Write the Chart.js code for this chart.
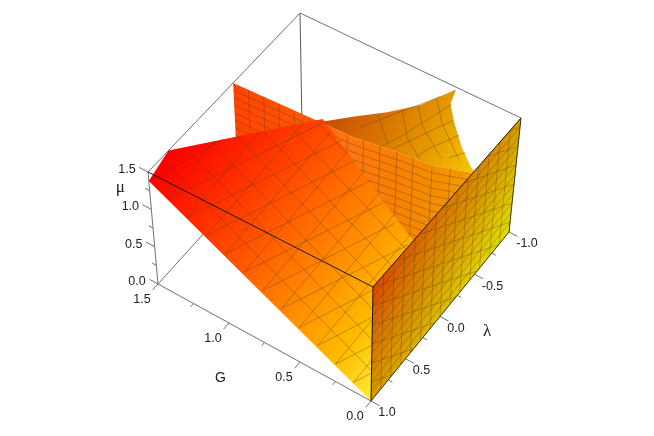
<!DOCTYPE html>
<html><head><meta charset="utf-8">
<style>html,body{margin:0;padding:0;background:#fff}#w{width:654px;height:436px;position:relative}canvas{filter:blur(0.5px)}</style>
<script src="https://cdn.jsdelivr.net/npm/chart.js@4"></script>
</head><body><div id="w"><canvas id="c" width="654" height="436"></canvas></div>
<script>
// ---- axes ----
const gTicks=[0,0.5,1,1.5], lambdaTicks=[1,0.5,0,-0.5,-1], muTicks=[0,0.5,1,1.5];
const gMinor=[0.25,0.75,1.25], lambdaMinor=[0.75,0.25,-0.25,-0.75], muMinor=[0.25,0.75,1.25];
const tickLabels=v=>v.toFixed(1);
// ---- surface sheets: vertices as [G, lambda, mu] ----
const backLobe=[[0.93,-0.15,1.5],[0.80,-0.33,1.5],[0.66,-0.51,1.5],[0.535,-0.70,1.5],[0.44,-1,1.47],[0.47,-1,1.25],[0.435,-1,1.03],[0.375,-1,0.77],[0.3,-1,0.57],[0.15,-1,0.4],[0,-0.35,1.5],[0.22,-0.25,1.5],[0.445,-0.216,1.5],[0.714,-0.16,1.5]];
const curtainG=[1.5,0.93,0.714,0.445,0.22,0];
const curtainL=[-0.12,-0.15,-0.16,-0.216,-0.25,-0.35];
const curtainBase=0.4, curtainTop=1.5;
const mainSheet=[[0,1,0],[1.5,1,1.38],[1.5,0.73,1.5],[1.07,-0.46,1.07],[0.62,-0.34,0.62],[0.34,-0.29,0.34],[0,-0.3,0]];
const wallSheet=[[0,1,1.5],[0,-1,1.5],[0,-1,0],[0,1,0]];
// ---- mesh lines ----
const curtainColG=[1.4,1.3,1.2,1.1,1.0,0.75,0.65,0.55,0.445,0.345,0.225,0.125];
const curtainColL=[-0.125,-0.13,-0.135,-0.14,-0.145,-0.155,-0.175,-0.195,-0.216,-0.235,-0.25,-0.295];
const curtainRows=[1.4,1.3,1.2,1.1,1.0,0.9,0.8,0.7,0.6,0.5];
const mainGVals=[1.375,1.25,1.125,1,0.875,0.75,0.625,0.5,0.375,0.25,0.125];
const mainGStartMu=[1.265,1.15,1.035,0.92,0.805,0.69,0.575,0.46,0.345,0.23,0.115];
const mainGEndL=[0.38,0.03,-0.31,-0.44,-0.41,-0.375,-0.34,-0.32,-0.30,-0.3,-0.3];
const mainLVals=[0.8,0.6,0.4,0.2,0,-0.2,-0.4];
const mainLStartG=[0,0,0,0,0,0,0.85];
const mainLEndG=[1.5,1.45,1.38,1.31,1.24,1.16,1.09];
const mainDiagStartG=[1.5,1.375,1.25,1.125,1,0.875,0.75,0.625,0.5,0.375,0.25,0.125];
const mainDiagEndG=[1.35,1.053,0.93,0.82,0.70,0.58,0.47,0.35,0.21,0.09,0,0];
const mainDiagEndL=[0.3,-0.46,-0.46,-0.4,-0.37,-0.32,-0.27,-0.23,-0.3,-0.3,-0.136,0.43];
const wallLVals=[0.857,0.714,0.571,0.429,0.286,0.143,0,-0.143,-0.286,-0.429,-0.571,-0.714,-0.857];
const wallMuVals=[0.125,0.25,0.375,0.5,0.625,0.75,0.875,1,1.125,1.25,1.375];
const wallDiagA=[[1,0.25],[1,0.5],[1,0.75],[1,1],[1,1.25],[1,1.5],[0.69,1.5],[0.38,1.5],[0.07,1.5],[-0.23,1.5],[-0.54,1.5],[-0.85,1.5]];
const wallDiagB=[[0.69,0],[0.38,0],[0.07,0],[-0.23,0],[-0.54,0],[-0.85,0],[-1,0.13],[-1,0.38],[-1,0.63],[-1,0.88],[-1,1.13],[-1,1.38]];
const backLines=[
 [[0.69,-0.447],[0.576,-0.312],[0.522,-0.244]],
 [[0.598,-0.588],[0.45,-0.368],[0.314,-0.254]],
 [[0.545,-0.696],[0.434,-0.536],[0.213,-0.346]],
 [[0.477,-0.816],[0.362,-0.649],[0.117,-0.398]],
 [[0.388,-0.838],[0.495,-0.35],[0.546,-0.186]],
 [[0.315,-0.704],[0.432,-0.36],[0.478,-0.224]],
 [[0.222,-0.61],[0.308,-0.378],[0.336,-0.258]],
 [[0.117,-0.492],[0.176,-0.38]],
 [[0.476,-0.854],[0.723,-0.274]]
];
// ---- view: pixel position of the eight box corners ----
const corner={A:[371,401],B:[158,284],C:[509,232],D:[302,125],At:[373,287],Bt:[148,172],Ct:[521,118],Dt:[300,13]};
function proj(g,l,m){
 const u=g/1.5,v=(1-l)/2,w=m/1.5,f=i=>(1-w)*((1-u)*(1-v)*corner.A[i]+u*(1-v)*corner.B[i]+(1-u)*v*corner.C[i]+u*v*corner.D[i])+w*((1-u)*(1-v)*corner.At[i]+u*(1-v)*corner.Bt[i]+(1-u)*v*corner.Ct[i]+u*v*corner.Dt[i]);
 return {x:f(0),y:f(1)};
}
const canvas=document.getElementById('c');
const ctx=canvas.getContext('2d');
function grad(x0,y0,x1,y1,stops){const g=ctx.createLinearGradient(x0,y0,x1,y1);stops.forEach(s=>g.addColorStop(s[0],s[1]));return g;}
const datasets=[];
function add(pts,o){datasets.push(Object.assign({data:pts.map(p=>proj(p[0],p[1],p[2])),showLine:true,pointRadius:0,borderWidth:1,fill:false,tension:0,order:100000-datasets.length},o));}
const poly=(pts,c)=>add(pts,{backgroundColor:c,borderWidth:0,borderColor:'rgba(0,0,0,0)',fill:'shape'});
const line=(pts,c,w)=>add(pts,{borderColor:c,borderWidth:w||1});
const AX='#707070',DK='#1c1400',MESH='rgba(96,52,0,0.36)',MESHW='rgba(70,50,0,0.3)';
// back of box
line([[1.5,1,0],[1.5,-1,0]],AX);
line([[1.5,-1,0],[1.5,-1,1.5]],'#5a5a5a');
line([[1.5,1,1.5],[1.5,-1,1.5]],AX);
line([[1.5,-1,1.5],[0,-1,1.5]],AX);
line([[1.5,1,0],[1.5,1,1.5]],AX);
line([[0,1,0],[1.5,1,0]],AX);
// ticks
gTicks.forEach(t=>line([[t,1,0],[t,1.075,0]],AX));
gMinor.forEach(t=>line([[t,1,0],[t,1.04,0]],AX));
lambdaTicks.forEach(t=>line([[0,t,0],[-0.06,t,0]],AX));
lambdaMinor.forEach(t=>line([[0,t,0],[-0.03,t,0]],AX));
muTicks.forEach(t=>line([[1.5,1,t],[1.56,1,t]],AX));
muMinor.forEach(t=>line([[1.5,1,t],[1.53,1,t]],AX));
// back lobe
poly(backLobe,grad(335,108,472,172,[[0,'#c85000'],[0.35,'#d87400'],[0.7,'#e69e00'],[1,'#f8c400']]));
backLines.forEach(l=>line(l.map(p=>[p[0],p[1],1.5]),MESH));
// curtain sheet
const curtain=curtainG.map((g,i)=>[g,curtainL[i],curtainTop]).concat(curtainG.map((g,i)=>[g,curtainL[i],curtainBase]).reverse());
poly(curtain,grad(233,0,472,0,[[0,'#ff4400'],[0.36,'#ff5c00'],[0.45,'#ff7414'],[0.7,'#f68200'],[1,'#f29c00']]));
curtainColG.forEach((g,i)=>line([[g,curtainColL[i],curtainTop],[g,curtainColL[i],curtainBase]],MESH));
curtainRows.forEach(m=>line(curtainG.map((g,i)=>[g,curtainL[i],m]),MESH));
// main sheet
const m0=proj(1.5,1,1.38);
poly(mainSheet,grad(m0.x,m0.y,m0.x+241,m0.y+197,[[0,'#ff0000'],[0.33,'#ff4800'],[0.66,'#ff9400'],[0.83,'#ffbc00'],[0.93,'#ffd820'],[1,'#fff030']]));
mainGVals.forEach((g,i)=>line([[g,1,mainGStartMu[i]],[g,mainGEndL[i],g]],MESH));
mainLVals.forEach((l,i)=>line([[mainLStartG[i],l,mainLStartG[i]],[mainLEndG[i],l,Math.min(mainLEndG[i],1.44)]],MESH));
mainDiagStartG.forEach((g,i)=>line([[g,1,g*0.92],[mainDiagEndG[i],mainDiagEndL[i],mainDiagEndG[i]]],MESH));
// G = 0 wall
const a=proj(0,1,1.5);
poly(wallSheet,grad(a.x,a.y,a.x+83,a.y+44,[[0,'#d84800'],[0.3,'#d87800'],[0.6,'#d8a000'],[0.85,'#e0c800'],[1,'#e2de00']]));
wallLVals.forEach(l=>line([[0,l,0],[0,l,1.5]],MESHW));
wallMuVals.forEach(m=>line([[0,1,m],[0,-1,m]],MESHW));
wallDiagA.forEach((p,i)=>line([[0,p[0],p[1]],[0,wallDiagB[i][0],wallDiagB[i][1]]],MESHW));
// front of box
line([[1.5,1,1.5],[0,1,1.5]],DK);
line([[0,1,1.5],[0,-1,1.5]],DK);
line([[0,1,1.5],[0,1,0]],DK);
line([[0,1,0],[0,-1,0]],'#3a3000');
line([[0,-1,0],[0,-1,1.5]],'#3a3000');
const textPlugin={id:'axisText',afterDraw(ch){
 const c=ch.ctx,X=ch.scales.x,Y=ch.scales.y;c.save();c.fillStyle='#222';c.textAlign='center';c.textBaseline='middle';
 const t=(s,p,dx,dy,font)=>{c.font=font||'12.5px "Liberation Sans"';c.fillText(s,X.getPixelForValue(p.x)+dx,Y.getPixelForValue(p.y)+dy);};
 gTicks.forEach(v=>t(tickLabels(v),proj(v,1,0),-16,16));
 lambdaTicks.forEach(v=>t(tickLabels(v),proj(0,v,0),v<0?18:16,12));
 muTicks.forEach(v=>t(tickLabels(v),proj(1.5,1,v),-21,-2.5));
 t('G',proj(0.75,1,0),-44,36,'14px "Liberation Sans"');
 t('λ',proj(0,0,0),47,15,'17px "Liberation Serif"');
 t('μ',proj(1.5,1,1),-31,-22,'17px "Liberation Serif"');
 c.restore();
}};
new Chart(ctx,{type:'scatter',data:{datasets},plugins:[textPlugin],options:{
 responsive:false,animation:false,events:[],
 layout:{padding:0},
 plugins:{legend:{display:false},tooltip:{enabled:false},title:{display:false}},
 scales:{x:{type:'linear',display:false,min:0,max:654},y:{type:'linear',display:false,min:0,max:436,reverse:true}}
}});
</script></body></html>
